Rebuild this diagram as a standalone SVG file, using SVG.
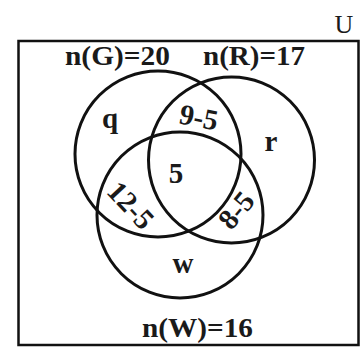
<svg xmlns="http://www.w3.org/2000/svg" width="362" height="347" viewBox="0 0 362 347">
<style>
.c{fill:none;stroke:#111;stroke-width:3}
.b{font-family:"Liberation Serif","Times New Roman",serif;font-weight:bold;font-size:27px;fill:#1a1a1a;text-anchor:middle}
.i{font-size:29px}
.u{font-family:"Liberation Serif","Times New Roman",serif;font-size:26px;fill:#1a1a1a;text-anchor:middle}
</style>
<rect width="362" height="347" fill="#fff"/>
<g id="universe">
<rect x="18.5" y="41" width="340" height="304" fill="none" stroke="#111" stroke-width="2.5"/>
<text class="u" x="344" y="33">U</text>
</g>
<g id="setG">
<circle class="c" cx="158" cy="154" r="83"/>
<text class="b" x="117.5" y="65" textLength="105" lengthAdjust="spacingAndGlyphs">n(G)=20</text>
</g>
<g id="setR">
<circle class="c" cx="231.5" cy="160" r="83"/>
<text class="b" x="254" y="65" textLength="102" lengthAdjust="spacingAndGlyphs">n(R)=17</text>
</g>
<g id="setW">
<circle class="c" cx="180" cy="215" r="83"/>
<text class="b" x="197.5" y="337" textLength="111" lengthAdjust="spacingAndGlyphs">n(W)=16</text>
</g>
<g id="regions">
<text class="b i" x="110" y="128">q</text>
<text class="b i" x="271" y="151">r</text>
<text class="b i" x="183" y="273">w</text>
<text class="b i" x="176" y="183">5</text>
<text class="b i" transform="translate(199,117) rotate(11)" x="0" y="10">9-5</text>
<text class="b i" transform="translate(131,205) rotate(47)" x="0" y="10">12-5</text>
<text class="b i" transform="translate(236,210) rotate(-50)" x="0" y="10">8-5</text>
</g>
</svg>
